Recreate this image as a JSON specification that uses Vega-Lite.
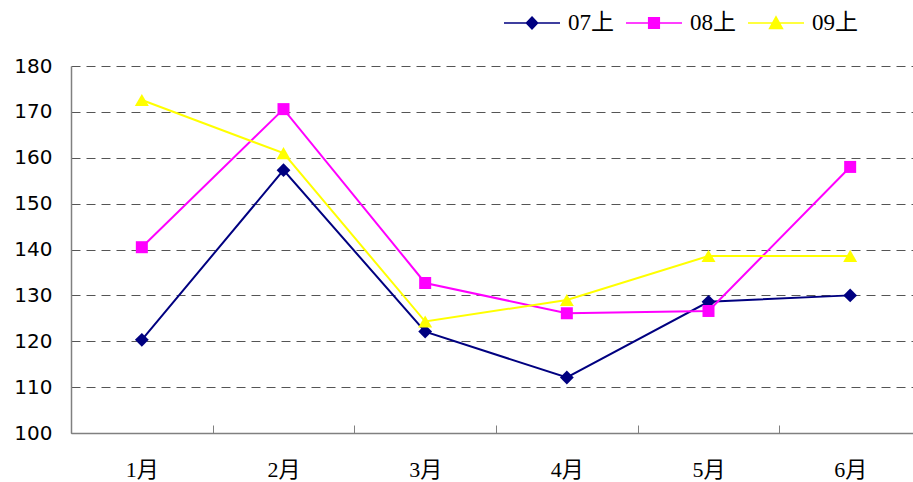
{
  "$schema": "https://vega.github.io/schema/vega-lite/v6.json",
  "width": 850,
  "height": 367,
  "autosize": "none",
  "padding": {"left": 71, "top": 66, "right": 0, "bottom": 49},
  "background": "white",
  "config": {"view": {"stroke": null}},
  "data": {
    "values": [
      {"month": "1月", "series": "07上", "value": 120.3},
      {"month": "2月", "series": "07上", "value": 157.3},
      {"month": "3月", "series": "07上", "value": 122.1},
      {"month": "4月", "series": "07上", "value": 112.1},
      {"month": "5月", "series": "07上", "value": 128.6},
      {"month": "6月", "series": "07上", "value": 130.0},
      {"month": "1月", "series": "08上", "value": 140.5},
      {"month": "2月", "series": "08上", "value": 170.6},
      {"month": "3月", "series": "08上", "value": 132.7},
      {"month": "4月", "series": "08上", "value": 126.1},
      {"month": "5月", "series": "08上", "value": 126.6},
      {"month": "6月", "series": "08上", "value": 158.0},
      {"month": "1月", "series": "09上", "value": 172.6},
      {"month": "2月", "series": "09上", "value": 161.0},
      {"month": "3月", "series": "09上", "value": 124.3},
      {"month": "4月", "series": "09上", "value": 129.0},
      {"month": "5月", "series": "09上", "value": 138.6},
      {"month": "6月", "series": "09上", "value": 138.6}
    ]
  },
  "encoding": {
    "x": {
      "field": "month",
      "type": "ordinal",
      "sort": ["1月", "2月", "3月", "4月", "5月", "6月"],
      "scale": {"paddingInner": 0, "paddingOuter": 0},
      "axis": {
        "title": null,
        "labelAngle": 0,
        "tickBand": "extent",
        "tickSize": -8,
        "tickColor": "#808080",
        "tickWidth": 1,
        "domainColor": "#808080",
        "domainWidth": 1.5,
        "labelPadding": 34,
        "labelFont": "Liberation Serif, Noto Sans CJK SC",
        "labelFontSize": 22,
        "labelColor": "#000000",
        "grid": false
      }
    },
    "y": {
      "field": "value",
      "type": "quantitative",
      "scale": {"domain": [100, 180], "nice": false, "zero": false},
      "axis": {
        "title": null,
        "values": [100, 110, 120, 130, 140, 150, 160, 170, 180],
        "ticks": false,
        "labelPadding": 19,
        "labelFont": "DejaVu Sans",
        "labelFontSize": 20,
        "labelColor": "#000000",
        "domainColor": "#808080",
        "domainWidth": 1.5,
        "grid": true,
        "gridColor": "#555555",
        "gridDash": [9, 6],
        "gridWidth": 1
      }
    },
    "color": {
      "field": "series",
      "type": "nominal",
      "scale": {"domain": ["07上", "08上", "09上"], "range": ["#000080", "#FF00FF", "#FFFF00"]},
      "legend": {
        "orient": "none",
        "legendX": 432,
        "legendY": -72,
        "direction": "horizontal",
        "title": null,
        "padding": 0,
        "symbolSize": 3136,
        "symbolStrokeWidth": 1.5,
        "labelFont": "Liberation Serif, Noto Sans CJK SC",
        "labelFontSize": 23,
        "labelColor": "#000000",
        "labelOffset": 7,
        "columnPadding": 9,
        "encode": {
          "symbols": {
            "update": {
              "shape": {"signal": "datum.value === '07上' ? 'M-1,0H1M0,-0.21L0.2,0L0,0.21L-0.2,0Z' : (datum.value === '08上' ? 'M-1,0H1M-0.19,-0.19H0.19V0.19H-0.19Z' : 'M-1,0H1M0,-0.22L0.23,0.2H-0.23Z')"},
              "fill": {"scale": "color", "field": "value"},
              "stroke": {"scale": "color", "field": "value"},
              "opacity": {"value": 1}
            }
          }
        }
      }
    }
  },
  "layer": [
    {"mark": {"type": "line", "strokeWidth": 2}},
    {
      "transform": [{"filter": "datum.series === '07上'"}],
      "mark": {"type": "point", "filled": true, "opacity": 1, "shape": "diamond", "size": 190}
    },
    {
      "transform": [{"filter": "datum.series === '08上'"}],
      "mark": {"type": "point", "filled": true, "opacity": 1, "shape": "square", "size": 144}
    },
    {
      "transform": [{"filter": "datum.series === '09上'"}],
      "mark": {"type": "point", "filled": true, "opacity": 1, "shape": "triangle-up", "size": 196}
    }
  ]
}
